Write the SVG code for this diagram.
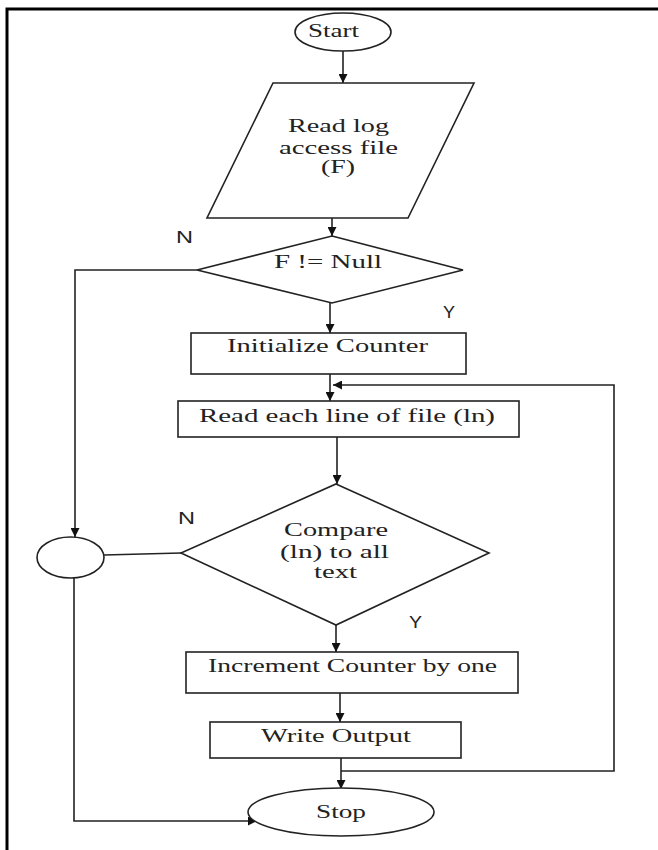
<svg xmlns="http://www.w3.org/2000/svg" width="658" height="850" viewBox="0 0 658 850">
<style>
.shape{fill:#fff;stroke:#222;stroke-width:1.6}
.ln{fill:none;stroke:#222;stroke-width:1.6}
.t{font-family:"Liberation Serif","Times New Roman",serif;font-size:18px;fill:#222}
.lb{font-family:"Liberation Sans",Arial,sans-serif;font-size:16px;fill:#222}
</style>
<defs>
<marker id="ah" viewBox="0 0 10 10" refX="10" refY="5" markerWidth="9" markerHeight="9" markerUnits="userSpaceOnUse" orient="auto">
<path d="M0,0 L10,5 L0,10 z" fill="#111"/>
</marker>
</defs>
<rect width="658" height="850" fill="#fff"/>
<path d="M7,850 L7,9 L658,9" fill="none" stroke="#000" stroke-width="3"/>
<g id="connectors">
<line class="ln" x1="343" y1="51" x2="343" y2="83" marker-end="url(#ah)"/>
<line class="ln" x1="332" y1="218" x2="332" y2="236" marker-end="url(#ah)"/>
<path class="ln" d="M197,270 L75,270 L75,537" marker-end="url(#ah)"/>
<line class="ln" x1="330" y1="303" x2="330" y2="333" marker-end="url(#ah)"/>
<line class="ln" x1="330" y1="374" x2="330" y2="401" marker-end="url(#ah)"/>
<path class="ln" d="M341,771 L614,771 L614,385 L333,385" marker-end="url(#ah)"/>
<line class="ln" x1="337" y1="437" x2="337" y2="484" marker-end="url(#ah)"/>
<line class="ln" x1="104" y1="555" x2="181" y2="553"/>
<path class="ln" d="M74,578 L74,821 L257,821" marker-end="url(#ah)"/>
<line class="ln" x1="336" y1="625" x2="336" y2="652" marker-end="url(#ah)"/>
<line class="ln" x1="340" y1="693" x2="340" y2="722" marker-end="url(#ah)"/>
<line class="ln" x1="341" y1="758" x2="341" y2="789" marker-end="url(#ah)"/>
</g>
<g id="start">
<ellipse class="shape" cx="343" cy="32" rx="48" ry="19"/>
<text class="t" x="308" y="37" textLength="51" lengthAdjust="spacingAndGlyphs">Start</text>
</g>
<g id="read-log">
<polygon class="shape" points="273,83 474,83 408,218 207,218"/>
<text class="t" x="288" y="132" textLength="101" lengthAdjust="spacingAndGlyphs">Read log</text>
<text class="t" x="279" y="154" textLength="119" lengthAdjust="spacingAndGlyphs">access file</text>
<text class="t" x="321" y="173" textLength="34" lengthAdjust="spacingAndGlyphs">(F)</text>
</g>
<g id="check-null">
<polygon class="shape" points="332,236 463,270 332,303 197,270"/>
<text class="t" x="274" y="268" textLength="108" lengthAdjust="spacingAndGlyphs">F != Null</text>
</g>
<g id="init-counter">
<rect class="shape" x="191" y="333" width="275" height="41"/>
<text class="t" x="227" y="352" textLength="201" lengthAdjust="spacingAndGlyphs">Initialize Counter</text>
</g>
<g id="read-line">
<rect class="shape" x="178" y="401" width="341" height="36"/>
<text class="t" x="199" y="422" textLength="296" lengthAdjust="spacingAndGlyphs">Read each line of file (ln)</text>
</g>
<g id="compare">
<polygon class="shape" points="336,484 489,553 336,625 181,553"/>
<text class="t" x="284" y="536" textLength="104" lengthAdjust="spacingAndGlyphs">Compare</text>
<text class="t" x="280" y="558" textLength="109" lengthAdjust="spacingAndGlyphs">(ln) to all</text>
<text class="t" x="314" y="578" textLength="43" lengthAdjust="spacingAndGlyphs">text</text>
</g>
<g id="connector-circle">
<ellipse class="shape" cx="70.5" cy="557.5" rx="33.5" ry="20.5"/>
</g>
<g id="increment">
<rect class="shape" x="186" y="652" width="332" height="41"/>
<text class="t" x="208" y="672" textLength="289" lengthAdjust="spacingAndGlyphs">Increment Counter by one</text>
</g>
<g id="write-output">
<rect class="shape" x="210" y="722" width="251" height="36"/>
<text class="t" x="261" y="742" textLength="150" lengthAdjust="spacingAndGlyphs">Write Output</text>
</g>
<g id="stop">
<ellipse class="shape" cx="341" cy="812" rx="93" ry="24"/>
<text class="t" x="316" y="818" textLength="50" lengthAdjust="spacingAndGlyphs">Stop</text>
</g>
<g id="labels">
<text class="lb" x="176" y="243" textLength="17" lengthAdjust="spacingAndGlyphs">N</text>
<text class="lb" x="443" y="318" textLength="12" lengthAdjust="spacingAndGlyphs">Y</text>
<text class="lb" x="178" y="524" textLength="17" lengthAdjust="spacingAndGlyphs">N</text>
<text class="lb" x="409" y="628" textLength="13" lengthAdjust="spacingAndGlyphs">Y</text>
</g>
</svg>
